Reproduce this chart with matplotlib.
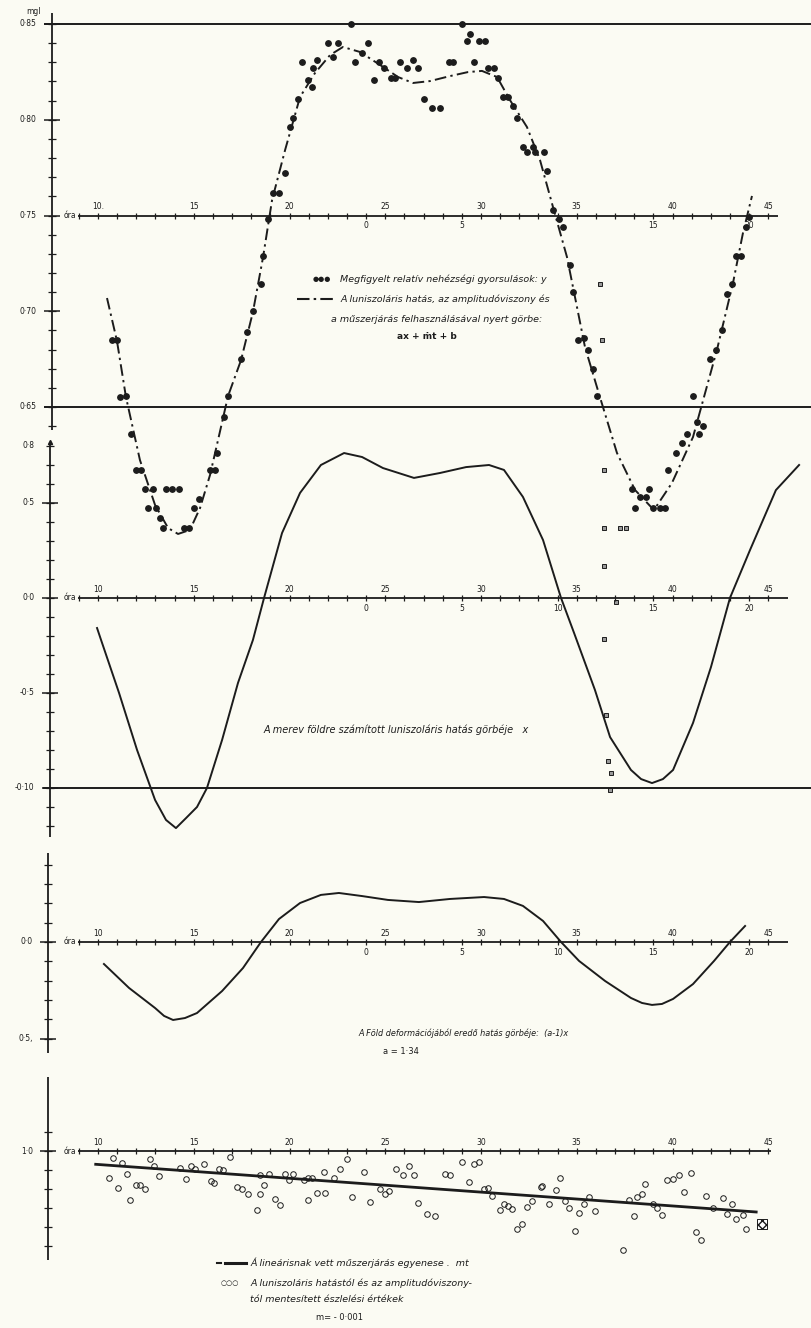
#!/usr/bin/env python3

# Tidal gravity record: observed values, lunisolar curves and the drift line.
# Four panels drawn on one sheet, all sharing the same hour scale.

import numpy as np
import matplotlib.pyplot as plt
from matplotlib.lines import Line2D

W, H = 811, 1328
INK = '#1c1c1c'
PAPER = '#fbfbf3'

# hour axis shared by all panels: hour 10 sits at 98 px, 19.15 px per hour
HOUR_PX0 = 98
HOUR_PX = 19.15

# --- panel 1: observed relative gravity y (mgal) and fitted curve ax + mt + b
obs_hour = [23.21, 22.01, 22.53, 24.10, 20.65, 21.44, 22.27, 23.42, 23.79, 24.67,
            21.23, 24.93, 20.97, 21.17, 24.41, 25.30, 25.51, 20.44, 20.18, 20.03,
            19.77, 19.14, 19.45, 18.88, 18.62, 25.77, 29.01, 29.43, 29.27, 29.90,
            30.21, 29.63, 26.14, 26.45, 26.71, 28.33, 28.54, 30.37, 30.68, 30.89,
            27.02, 27.44, 27.86, 31.15, 31.41, 31.67, 31.88, 32.19, 32.72, 32.40,
            32.82, 33.29, 33.45, 33.76, 34.07, 34.28, 43.99, 43.84, 43.32, 43.58,
            18.51, 18.09, 17.78, 17.47, 16.79, 16.58, 16.21, 10.73, 10.99, 11.15,
            11.46, 11.72, 34.65, 34.80, 35.07, 35.38, 35.59, 35.85, 36.06, 41.07,
            41.96, 42.27, 42.58, 42.85, 43.11, 40.76, 41.28, 41.59, 41.38, 40.50,
            40.18, 11.98, 12.25, 12.45, 12.87, 13.55, 13.86, 14.23, 12.61, 13.03,
            13.24, 13.39, 14.49, 14.75, 15.01, 15.27, 15.85, 16.11, 37.89, 38.04,
            38.30, 38.62, 38.77, 38.98, 39.35, 39.61, 39.77]
obs_val = [0.850, 0.840, 0.840, 0.840, 0.830, 0.831, 0.833, 0.830, 0.835, 0.830,
           0.827, 0.827, 0.821, 0.817, 0.821, 0.822, 0.822, 0.811, 0.801, 0.796,
           0.772, 0.762, 0.762, 0.748, 0.729, 0.830, 0.850, 0.845, 0.841, 0.841,
           0.841, 0.830, 0.827, 0.831, 0.827, 0.830, 0.830, 0.827, 0.827, 0.822,
           0.811, 0.806, 0.806, 0.812, 0.812, 0.807, 0.801, 0.786, 0.786, 0.783,
           0.783, 0.783, 0.773, 0.753, 0.748, 0.744, 0.749, 0.744, 0.729, 0.729,
           0.714, 0.700, 0.689, 0.675, 0.656, 0.645, 0.626, 0.685, 0.685, 0.655,
           0.656, 0.636, 0.724, 0.710, 0.685, 0.686, 0.680, 0.670, 0.656, 0.656,
           0.675, 0.680, 0.690, 0.709, 0.714, 0.636, 0.642, 0.640, 0.636, 0.631,
           0.626, 0.617, 0.617, 0.607, 0.607, 0.607, 0.607, 0.607, 0.597, 0.597,
           0.592, 0.587, 0.587, 0.587, 0.597, 0.602, 0.617, 0.617, 0.607, 0.597,
           0.603, 0.603, 0.607, 0.597, 0.597, 0.597, 0.617]

fit_hour = [10.47, 10.99, 11.46, 12.19, 12.98, 13.66, 14.18, 14.80, 15.33, 15.85,
            16.21, 16.79, 17.47, 18.09, 18.62, 19.09, 19.77, 20.55, 21.33, 22.12,
            22.79, 23.68, 24.73, 25.67, 26.45, 27.34, 28.38, 29.32, 30.05, 30.84,
            31.51, 32.40, 33.08, 33.76, 34.49, 35.43, 36.21, 37.10, 38.04, 39.03,
            39.97, 41.07, 42.32, 43.16, 43.68, 44.15]
fit_val = [0.7069, 0.6845, 0.6552, 0.6223, 0.5988, 0.5868, 0.5837, 0.5858, 0.5973, 0.6145,
           0.6302, 0.6557, 0.6745, 0.6996, 0.7283, 0.7581, 0.7842, 0.8119, 0.8244, 0.8338,
           0.8380, 0.8354, 0.8286, 0.8223, 0.8192, 0.8202, 0.8228, 0.8249, 0.8255, 0.8223,
           0.8103, 0.7962, 0.7790, 0.7544, 0.7283, 0.6813, 0.6552, 0.6260, 0.6067, 0.5962,
           0.6103, 0.6343, 0.6798, 0.7148, 0.7409, 0.7602]

# crossed squares near hour 36-37
sq_hour = [36.21, 36.32, 36.42, 36.42, 37.26, 37.57, 36.42, 37.05, 36.42, 36.53,
           36.63, 36.79, 36.74]
sq_val = [0.714, 0.685, 0.617, 0.587, 0.587, 0.587, 0.567, 0.548, 0.529, 0.489,
          0.465, 0.459, 0.450]

# --- panel 2: lunisolar effect on a rigid earth, x (mgal)
rigid_hour = [9.95, 10.16, 11.10, 12.04, 12.98, 13.55, 14.07, 14.60, 15.17, 15.69,
              16.48, 17.31, 18.09, 18.67, 19.61, 20.55, 21.64, 22.85, 23.79, 24.88,
              26.50, 27.86, 29.22, 30.42, 31.20, 32.19, 33.24, 34.18, 34.86, 35.95,
              36.74, 37.83, 38.36, 38.93, 39.50, 40.03, 41.07, 42.01, 43.00, 44.05,
              45.40, 46.61]
rigid_val = [-0.0158, -0.0221, -0.0500, -0.0800, -0.1063, -0.1168, -0.1211, -0.1158, -0.1100, -0.1000,
             -0.0747, -0.0447, -0.0221, 0.0, 0.0342, 0.0553, 0.0700, 0.0763, 0.0742, 0.0684,
             0.0632, 0.0658, 0.0689, 0.0700, 0.0674, 0.0532, 0.0305, 0.0, -0.0184, -0.0484,
             -0.0732, -0.0905, -0.0953, -0.0974, -0.0953, -0.0905, -0.0658, -0.0363, 0.0, 0.0253,
             0.0568, 0.0700]

# --- panel 3: effect of the earth's deformation, (a-1)x (mgal)
deform_hour = [10.31, 11.62, 12.98, 13.45, 13.92, 14.54, 15.17, 16.48, 17.57, 18.51,
               19.45, 20.55, 21.64, 22.58, 23.79, 25.14, 26.76, 28.38, 30.16, 31.20,
               32.19, 33.24, 34.18, 35.12, 36.48, 37.83, 38.41, 38.93, 39.45, 40.03,
               41.07, 42.17, 43.00, 43.79]
deform_val = [-0.0114, -0.0238, -0.0342, -0.0383, -0.0404, -0.0394, -0.0368, -0.0254, -0.0135, 0.0,
              0.0119, 0.0202, 0.0244, 0.0254, 0.0238, 0.0218, 0.0207, 0.0223, 0.0233, 0.0223,
              0.0187, 0.0109, 0.0, -0.0098, -0.0202, -0.0290, -0.0316, -0.0326, -0.0321, -0.0295,
              -0.0218, -0.0098, 0.0, 0.0083]

# --- panel 4: corrected observations and the linear instrument drift (10^-3 mgal)
resid_hour = [10.77, 11.25, 10.55, 11.53, 11.04, 11.96, 12.17, 12.44, 11.69, 12.71,
              12.93, 13.20, 14.28, 14.60, 14.87, 15.09, 15.55, 15.90, 16.06, 16.33,
              16.55, 16.87, 17.25, 17.52, 17.85, 18.31, 18.44, 18.47, 18.66, 18.93,
              19.25, 19.52, 19.74, 19.95, 20.17, 20.76, 20.98, 21.20, 20.98, 21.41,
              21.84, 21.79, 22.30, 22.65, 22.98, 23.25, 23.90, 24.22, 24.71, 24.98,
              25.19, 25.57, 25.95, 26.22, 26.49, 26.71, 27.19, 27.62, 28.11, 28.38,
              29.00, 29.35, 29.62, 29.89, 30.16, 30.38, 30.60, 30.97, 31.19, 31.41,
              31.62, 31.89, 32.16, 32.38, 32.65, 33.11, 33.19, 33.57, 33.92, 34.13,
              34.38, 34.59, 34.92, 35.13, 35.40, 35.62, 35.94, 37.43, 37.73, 37.97,
              38.16, 38.43, 38.59, 38.97, 39.19, 39.46, 39.73, 40.00, 40.32, 40.94,
              40.62, 41.24, 41.48, 41.75, 42.10, 42.64, 42.86, 43.10, 43.29, 43.67,
              43.83]
resid_val = [-3.5, -6.3, -14.2, -11.9, -19.3, -18.1, -18.1, -19.8, -25.6, -4.0,
             -8.1, -13.0, -8.9, -14.6, -8.1, -9.3, -6.7, -16.0, -16.8, -9.3,
             -10.2, -3.2, -18.9, -19.8, -22.8, -31.2, -22.5, -12.8, -17.7, -12.3,
             -25.1, -28.6, -11.9, -15.4, -12.3, -15.4, -14.4, -14.0, -26.0, -22.1,
             -22.1, -11.1, -14.2, -9.3, -4.2, -24.2, -11.2, -26.8, -19.8, -22.8,
             -21.1, -9.3, -12.8, -8.1, -12.5, -27.2, -33.3, -34.2, -12.3, -12.8,
             -6.0, -16.1, -7.0, -6.0, -20.0, -19.3, -23.5, -31.2, -28.1, -29.1,
             -30.4, -40.9, -38.2, -29.5, -26.3, -18.9, -18.6, -28.1, -20.7, -14.0,
             -26.3, -29.8, -42.3, -32.6, -27.7, -24.2, -31.6, -52.3, -26.0, -34.0,
             -24.2, -22.5, -17.5, -27.7, -29.8, -33.9, -15.4, -14.6, -12.8, -11.4,
             -21.4, -42.6, -47.0, -23.9, -29.8, -24.7, -33.0, -28.1, -35.6, -33.9,
             -40.9]
drift_hour = [9.88, 44.37]
drift_val = [-7.0, -32.1]
box_hour = [44.67]
box_val = [-38.6]

# tick labels
hour_labels = [(h, str(h)) for h in range(10, 50, 5)]
hour_labels_p1 = [(10, '10.')] + hour_labels[1:]
day2_labels = [(24, '0'), (29, '5'), (34, '10'), (39, '15'), (44, '20')]
day2_labels_p1 = [(24, '0'), (29, '5'), (39, '15'), (44, '20')]


def px_to_hour(px):
    return 10 + (px - HOUR_PX0) / HOUR_PX


def panel(fig, v_ref, px_ref, px_per_unit):
    """Full-sheet transparent axes; v_ref sits px_ref pixels from the top."""
    ax = fig.add_axes([0, 0, 1, 1])
    ax.set_xlim(px_to_hour(0), px_to_hour(W))
    ax.set_ylim(v_ref - (H - px_ref) / px_per_unit, v_ref + px_ref / px_per_unit)
    ax.axis('off')
    ax.patch.set_alpha(0)
    return ax


def hour_axis(ax, y, end_px, top_labels, bottom_labels):
    h0, h1 = px_to_hour(78), px_to_hour(end_px)
    ax.plot([h0, h1], [y, y], color=INK, lw=1.3, solid_capstyle='butt')
    hours = np.arange(9, 46)
    ax.plot(hours, np.full(len(hours), y), ls='none', marker='|', ms=5, mew=0.9, color=INK)
    ax.annotate('óra', (h0, y), xytext=(-1, 0), textcoords='offset points',
                ha='right', va='center', fontsize=5.5, color=INK)
    for h, lab in top_labels:
        ax.annotate(lab, (h, y), xytext=(0, 3), textcoords='offset points',
                    ha='center', va='bottom', fontsize=5.5, color=INK)
    for h, lab in bottom_labels:
        ax.annotate(lab, (h, y), xytext=(0, -4), textcoords='offset points',
                    ha='center', va='top', fontsize=5.5, color=INK)


def value_axis(ax, x_px, lo, hi, minor, major, labels, arrow=False):
    hx = px_to_hour(x_px)
    ax.plot([hx, hx], [lo, hi], color=INK, lw=1.3, solid_capstyle='butt')
    ax.plot(np.full(len(minor), hx), minor, ls='none', marker='_', ms=6, mew=0.9, color=INK)
    ax.plot(np.full(len(major), hx), major, ls='none', marker='_', ms=11, mew=1.1, color=INK)
    for v, lab in labels:
        ax.annotate(lab, (hx, v), xytext=(-11, 0), textcoords='offset points',
                    ha='right', va='center', fontsize=5.5, color=INK)
    if arrow:
        ax.plot([hx], [hi], marker='^', ms=3, color=INK)


def rule(ax, v, x0_px=45, x1_px=W):
    ax.plot([px_to_hour(x0_px), px_to_hour(x1_px)], [v, v], color=INK, lw=1.4)


plt.rcParams['font.family'] = ['DejaVu Sans']
fig = plt.figure(figsize=(W / 100, H / 100), dpi=100, facecolor=PAPER)


def note(x, y, s, **kw):
    kw.setdefault('fontsize', 6.8)
    kw.setdefault('style', 'italic')
    kw.setdefault('va', 'center')
    fig.text(x / W, 1 - y / H, s, color=INK, **kw)


def sample(x0, x1, y, **kw):
    fig.add_artist(Line2D([x0 / W, x1 / W], [1 - y / H, 1 - y / H],
                          transform=fig.transFigure, color=INK, **kw))


# panel 1
ax1 = panel(fig, 0.85, 24, 1915)
rule(ax1, 0.85)
rule(ax1, 0.65)
value_axis(ax1, 52, 0.638, 0.856, np.round(np.arange(0.64, 0.855, 0.01), 2),
           [0.65, 0.70, 0.75, 0.80, 0.85],
           [(0.85, '0·85'), (0.80, '0·80'), (0.75, '0·75'), (0.70, '0·70'), (0.65, '0·65')])
hour_axis(ax1, 0.75, 778, hour_labels_p1, day2_labels_p1)
ax1.plot(fit_hour, fit_val, color=INK, lw=1.4, ls=(0, (6, 2.2, 1.2, 2.2)))
ax1.plot(obs_hour, obs_val, 'o', ms=3.9, color=INK)
ax1.plot(sq_hour, sq_val, 's', ms=3.4, mfc='#9a9a9a', mec=INK, mew=0.7)
note(26, 12, 'mgl', style='normal', fontsize=5.5)

# panel 2
ax2 = panel(fig, 0.0, 598, 1900)
rule(ax2, -0.10, 44)
value_axis(ax2, 50, -0.126, 0.082, np.round(np.arange(-0.12, 0.085, 0.01), 2),
           [0.05, 0.0, -0.05, -0.10],
           [(0.08, '0·8'), (0.05, '0·5'), (0.0, '0·0'), (-0.05, '-0·5'), (-0.10, '-0·10')],
           arrow=True)
hour_axis(ax2, 0.0, 788, hour_labels, day2_labels)
ax2.plot(rigid_hour, rigid_val, color=INK, lw=1.4)

# panel 3
ax3 = panel(fig, 0.0, 942, 1930)
value_axis(ax3, 48, -0.0575, 0.046, np.round(np.arange(-0.05, 0.045, 0.01), 2),
           [0.0, -0.05], [(0.0, '0·0'), (-0.05, '0·5,')])
hour_axis(ax3, 0.0, 788, hour_labels, day2_labels)
ax3.plot(deform_hour, deform_val, color=INK, lw=1.4)

# panel 4
ax4 = panel(fig, 0.0, 1151, 1.9)
value_axis(ax4, 48, -57.4, 39, np.arange(-50, 15, 10), [0], [(0, '1·0')])
hour_axis(ax4, 0.0, 771, hour_labels, [])
ax4.plot(drift_hour, drift_val, color=INK, lw=2)
ax4.plot(resid_hour, resid_val, 'o', ms=4, mfc='none', mec=INK, mew=0.7)
ax4.scatter(box_hour, box_val, marker='s', s=55, facecolor='white', edgecolor=INK,
            hatch='xxxx', lw=0.7)

# panel 1 legend
note(313, 279, '●●●', style='normal', fontsize=5)
note(340, 279, 'Megfigyelt relatív nehézségi gyorsulások: y')
sample(297, 335, 299, lw=1.5, ls=(0, (6, 2, 1.2, 2)))
note(340, 299, 'A luniszoláris hatás, az amplitudóviszony és')
note(331, 319, 'a műszerjárás felhasználásával nyert görbe:')
note(397, 337, 'ax + ṁt + b', style='normal', fontsize=6.5, weight='bold')

# panel 2 / 3 captions
note(264, 730, 'A merev földre számított luniszoláris hatás görbéje   x', fontsize=7.0)
note(358, 1033, 'A Föld deformációjából eredő hatás görbéje:  (a-1)x', fontsize=5.9)
note(401, 1051, 'a = 1·34', style='normal', ha='center', fontsize=6)

# panel 4 legend
sample(217, 221, 1263, lw=1.5)
sample(225, 246, 1263, lw=2.2)
note(250, 1263, 'Á lineárisnak vett műszerjárás egyenese .  mt')
note(221, 1283, '○○○', style='normal', fontsize=5)
note(250, 1283, 'A luniszoláris hatástól és az amplitudóviszony-')
note(250, 1300, 'tól mentesített észlelési értékek')
note(340, 1318, 'm= - 0·001', style='normal', ha='center', fontsize=6)

fig.savefig('out.png', dpi=100, facecolor=PAPER)
